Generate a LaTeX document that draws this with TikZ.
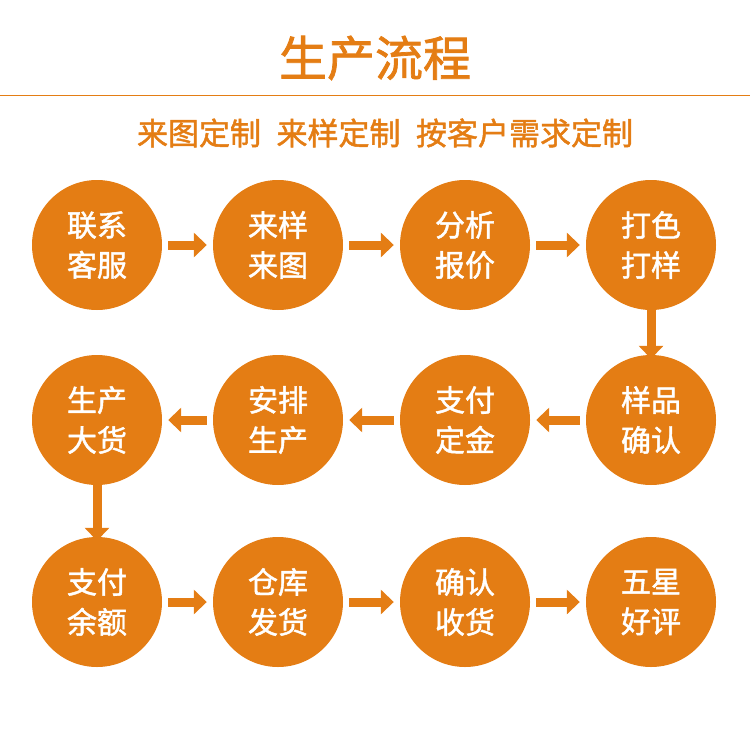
\documentclass[tikz,border=0pt]{standalone}
\usepackage{fontspec}
\newfontfamily\cjk{Noto Sans CJK SC}
\newfontfamily\cjkb[FakeBold=1.5]{Noto Sans CJK SC}
\usetikzlibrary{arrows.meta}
\definecolor{org}{HTML}{E47D14}
\begin{document}
\begin{tikzpicture}[x=1pt,y=-1pt,
  step circ/.style={circle,fill=org,minimum size=130pt,inner sep=0pt,text=white,align=center,font=\cjkb\fontsize{30}{40}\selectfont},
  blk/.style={org,line width=9pt,-{Triangle[length=13pt,width=24pt]}}]
\useasboundingbox (0,0) rectangle (750,754);
\node (title) at (375,58) {\cjkb\fontsize{48}{50}\selectfont\color{org}生产流程};
\draw[org,line width=1pt] (0,96) -- (750,96);
\node (sub) at (385,133) {\cjkb\fontsize{31}{34}\selectfont\color{org}来图定制\hspace{0.5em}来样定制\hspace{0.5em}按客户需求定制};
\node[step circ] (a1) at (97,245) {联系\\客服};
\node[step circ] (a2) at (278,245) {来样\\来图};
\node[step circ] (a3) at (465,245) {分析\\报价};
\node[step circ] (a4) at (651,245) {打色\\打样};
\node[step circ] (b4) at (651,420) {样品\\确认};
\node[step circ] (b3) at (465,420) {支付\\定金};
\node[step circ] (b2) at (278,420) {安排\\生产};
\node[step circ] (b1) at (97,420) {生产\\大货};
\node[step circ] (c1) at (97,602) {支付\\余额};
\node[step circ] (c2) at (278,602) {仓库\\发货};
\node[step circ] (c3) at (465,602) {确认\\收货};
\node[step circ] (c4) at (651,602) {五星\\好评};
\draw[blk] ([xshift=6pt]a1.east) -- ([xshift=-6pt]a2.west);
\draw[blk] ([xshift=6pt]a2.east) -- ([xshift=-6pt]a3.west);
\draw[blk] ([xshift=6pt]a3.east) -- ([xshift=-6pt]a4.west);
\draw[blk] ([yshift=4pt]a4.south) -- ([yshift=-4pt]b4.north);
\draw[blk] ([xshift=-6pt]b4.west) -- ([xshift=6pt]b3.east);
\draw[blk] ([xshift=-6pt]b3.west) -- ([xshift=6pt]b2.east);
\draw[blk] ([xshift=-6pt]b2.west) -- ([xshift=6pt]b1.east);
\draw[blk] ([yshift=4pt]b1.south) -- ([yshift=-4pt]c1.north);
\draw[blk] ([xshift=6pt]c1.east) -- ([xshift=-6pt]c2.west);
\draw[blk] ([xshift=6pt]c2.east) -- ([xshift=-6pt]c3.west);
\draw[blk] ([xshift=6pt]c3.east) -- ([xshift=-6pt]c4.west);
\end{tikzpicture}
\end{document}
